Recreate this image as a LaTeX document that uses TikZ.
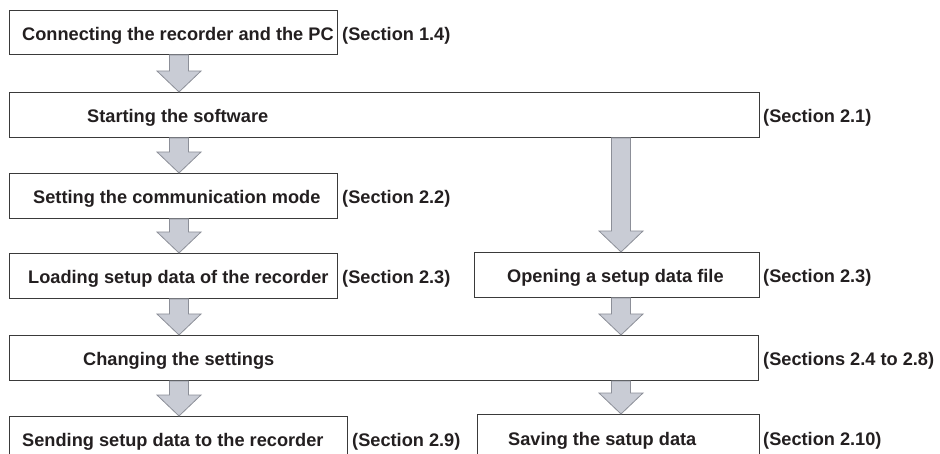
\documentclass[tikz,border=0pt]{standalone}
\usepackage{fontspec}
\setmainfont{Liberation Sans}
\usetikzlibrary{calc}
\definecolor{boxcol}{HTML}{3A3A3A}
\definecolor{arrfill}{HTML}{C9CCD5}
\definecolor{arrdraw}{HTML}{8C8F98}
\definecolor{txtcol}{HTML}{231F20}
\tikzset{
  box/.style={draw=boxcol, line width=0.9pt, fill=white, inner sep=0pt, anchor=north west, minimum height=45pt},
  txt/.style={inner sep=0pt, anchor=base west, text=txtcol, font=\fontsize{18.2}{20}\selectfont\bfseries},
  fatarr/.style={fill=arrfill, draw=arrdraw, line width=0.8pt, line join=miter},
}
\newcommand\fatarrow[2]{%
  \draw[fatarr] let \p1=(#1), \p2=(#2) in
    (\x1-9.5pt,\y1) -- (\x1-9.5pt,\y2+21pt) -- (\x1-22pt,\y2+21pt) -- (\x1,\y2)
    -- (\x1+22pt,\y2+21pt) -- (\x1+9.5pt,\y2+21pt) -- (\x1+9.5pt,\y1) -- cycle;}
\begin{document}
\begin{tikzpicture}[x=1pt,y=-1pt]
\useasboundingbox (0,0) rectangle (940,454);
\clip (0,0) rectangle (940,454);
\coordinate (L) at (179,0);
\coordinate (R) at (621,0);
% boxes
\node[box, minimum width=328pt, minimum height=44pt] (b1) at (9,10) {};
\node[box, minimum width=750pt] (b2) at (9,92) {};
\node[box, minimum width=328pt] (b3) at (9,173) {};
\node[box, minimum width=328pt] (b4) at (9,253) {};
\node[box, minimum width=285pt] (r1) at (474,252) {};
\node[box, minimum width=749pt] (b5) at (9,335) {};
\node[box, minimum width=338pt] (b6) at (9,416) {};
\node[box, minimum width=282pt] (r2) at (477,414) {};
% texts
\node[txt] (t1) at (22,40.5) {Connecting the recorder and the PC};
\node[txt] (s1) at (342,40.5) {(Section 1.4)};
\node[txt] (t2) at (87,123) {Starting the software};
\node[txt] (s2) at (763,123) {(Section 2.1)};
\node[txt] (t3) at (33,204) {Setting the communication mode};
\node[txt] (s3) at (342,204) {(Section 2.2)};
\node[txt] (t4) at (28,284) {Loading setup data of the recorder};
\node[txt] (s4) at (342,284) {(Section 2.3)};
\node[txt] (tr1) at (507,283) {Opening a setup data file};
\node[txt] (sr1) at (763,283) {(Section 2.3)};
\node[txt] (t5) at (83,366) {Changing the settings};
\node[txt] (s5) at (763,366) {(Sections 2.4 to 2.8)};
\node[txt] (t6) at (22,446) {Sending setup data to the recorder};
\node[txt] (s6) at (352,446) {(Section 2.9)};
\node[txt] (tr2) at (508,445) {Saving the satup data};
\node[txt] (sr2) at (763,445) {(Section 2.10)};
% arrows
\fatarrow{b1.south -| L}{b2.north -| L}
\fatarrow{b2.south -| L}{b3.north -| L}
\fatarrow{b3.south -| L}{b4.north -| L}
\fatarrow{b4.south -| L}{b5.north -| L}
\fatarrow{b5.south -| L}{b6.north -| L}
\fatarrow{b2.south -| R}{r1.north -| R}
\fatarrow{r1.south -| R}{b5.north -| R}
\fatarrow{b5.south -| R}{r2.north -| R}
\end{tikzpicture}
\end{document}
